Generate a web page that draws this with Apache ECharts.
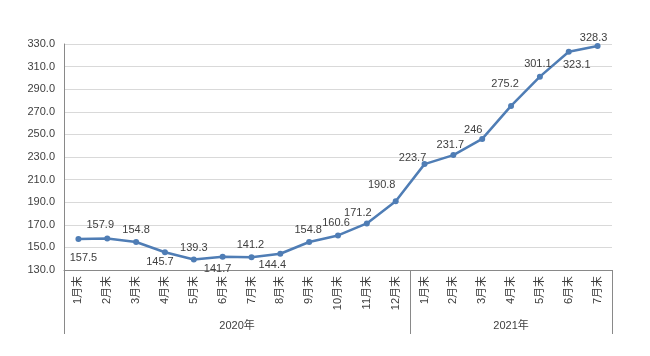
<!DOCTYPE html>
<html><head><meta charset="utf-8">
<script src="https://cdn.jsdelivr.net/npm/echarts@6/dist/echarts.min.js"></script>
<style>html,body{margin:0;padding:0;background:#fff}#c{width:650px;height:356px}</style>
</head><body><div id="c"></div>
<script>
var categories = ['1月末','2月末','3月末','4月末','5月末','6月末','7月末','8月末','9月末','10月末','11月末','12月末',
                  '1月末','2月末','3月末','4月末','5月末','6月末','7月末'];
var values = [157.5,157.9,154.8,145.7,139.3,141.7,141.2,144.4,154.8,160.6,171.2,190.8,
              223.7,231.7,246,275.2,301.1,323.1,328.3];
var yearNames = ['2020年','2021年'];
var yearCounts = [12,7];
var yTicks = [130,330,20];
// label offsets (style only)
var labelOffsets = [[5,19],[-7,-14],[0,-12],[-5,10],[0,-12],[-5,12],[-1,-12],[-8,11],[-1,-12],[-2,-12],
                    [-9,-10],[-14,-16],[-12,-6],[-3,-10],[-9,-9],[-6,-22],[-2,-13],[8,13],[-4,-8]];

var yearCenters = [], yearEdges = [0], acc = 0;
yearCounts.forEach(function(c){ yearCenters.push(acc + c/2); acc += c; yearEdges.push(acc); });

var font = "'Liberation Sans','Noto Sans CJK SC',sans-serif";
var txt = '#404040';
var chart = echarts.init(document.getElementById('c'));
chart.setOption({
  animation:false,
  grid:{left:64,right:38,top:44,bottom:86,containLabel:false},
  xAxis:[{
    type:'category', data:categories, boundaryGap:true,
    axisLine:{show:true,lineStyle:{color:'#898989',width:1}},
    axisTick:{show:false},
    axisLabel:{rotate:90,margin:6,fontSize:11,color:txt,fontFamily:font,interval:0},
    splitLine:{show:false}
  },{
    type:'value', min:0, max:categories.length, position:'bottom',
    axisLine:{show:false},
    axisTick:{show:true,customValues:yearEdges,length:64,lineStyle:{color:'#898989',width:1}},
    axisLabel:{customValues:yearCenters,margin:50,fontSize:11,color:txt,fontFamily:font,
      formatter:function(v){ var i = yearCenters.indexOf(v); return i>=0 ? yearNames[i] : ''; }},
    splitLine:{show:false}
  }],
  yAxis:{
    type:'value', min:yTicks[0], max:yTicks[1], interval:yTicks[2],
    axisLine:{show:true,lineStyle:{color:'#898989',width:1}},
    axisTick:{show:false},
    axisLabel:{margin:9,fontSize:11,color:txt,fontFamily:font,formatter:function(v){return v.toFixed(1);}},
    splitLine:{show:true,lineStyle:{color:'#d9d9d9',width:1}}
  },
  series:[{
    type:'line', xAxisIndex:0,
    data:values.map(function(v,i){
      return {value:v,label:{offset:labelOffsets[i]}};
    }),
    symbol:'circle', symbolSize:6,
    lineStyle:{color:'#4f7db5',width:2.5},
    itemStyle:{color:'#4f7db5'},
    label:{show:true,position:'inside',fontSize:11,color:txt,fontFamily:font,
      formatter:function(p){return String(p.value);}}
  }]
});
</script></body></html>
